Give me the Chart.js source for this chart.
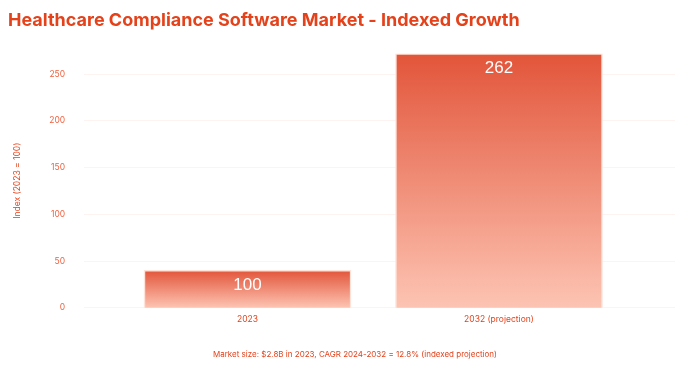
<!DOCTYPE html>
<html>
<head>
<meta charset="utf-8">
<script src="https://cdn.jsdelivr.net/npm/chart.js@4"></script>
<style>
  html, body { margin: 0; padding: 0; background: #fff; }
  #wrap { width: 700px; height: 375px; }
</style>
</head>
<body>
<div id="wrap"><canvas id="c"></canvas></div>
<script>
// Datos del gráfico
const categorias = ["2023", "2032 (projection)"];
const valores = [100, 262];
const titulo = "Healthcare Compliance Software Market - Indexed Growth";
const nota = "Market size: $2.8B in 2023, CAGR 2024-2032 = 12.8% (indexed projection)";

const ROJO = "#e4421b";
const NARANJA = "#ee6241";

// Degradado vertical de cada barra (arriba oscuro, abajo claro)
function rellenoBarra(ctx) {
  const chart = ctx.chart;
  const area = chart.chartArea;
  if (!area || ctx.type !== "data") return "#e5603f";
  const top = chart.scales.y1.getPixelForValue(ctx.raw.y);
  const g = chart.ctx.createLinearGradient(0, top, 0, area.bottom);
  g.addColorStop(0, "#e2553a");
  g.addColorStop(1, "#fdc4b3");
  return g;
}

// Etiquetas blancas dentro de las barras y nota al pie
const etiquetas = {
  id: "etiquetas",
  afterDatasetsDraw(chart) {
    const c = chart.ctx;
    const meta = chart.getDatasetMeta(0);
    c.save();
    c.fillStyle = "#ffffff";
    c.font = "17px 'Liberation Sans', Arial, sans-serif";
    c.textAlign = "center";
    c.textBaseline = "middle";
    meta.data.forEach((bar, i) => {
      c.fillText(String(valores[i]), bar.x, bar.y + 15);
    });
    // nota al pie
    c.fillStyle = ROJO;
    c.font = "8px Inter, sans-serif";
    c.fillText(nota, chart.width / 2 + 5, chart.height - 20);
    c.restore();
  },
};

new Chart(document.getElementById("c"), {
  type: "bar",
  data: {
    datasets: [{
      data: valores.map((v, i) => ({ x: i, y: v })),
      yAxisID: "y1",
      backgroundColor: rellenoBarra,
      borderColor: "rgba(255,225,215,0.95)",
      borderWidth: 1.5,
      barThickness: 207,
    }],
  },
  options: {
    responsive: true,
    maintainAspectRatio: false,
    animation: false,
    layout: { padding: { left: 8, right: 25, top: 0, bottom: 51 } },
    plugins: {
      legend: { display: false },
      tooltip: { enabled: false },
      title: {
        display: true,
        text: titulo,
        align: "start",
        color: ROJO,
        font: { family: "Inter", size: 18, weight: "bold" },
        padding: { top: 10, bottom: 22 },
      },
    },
    scales: {
      x: {
        type: "linear",
        min: -0.65,
        max: 1.7,
        offset: false,
        grid: { display: false, offset: false },
        border: { display: false },
        ticks: {
          stepSize: 1,
          includeBounds: false,
          autoSkip: false,
          maxRotation: 0,
          color: ROJO,
          font: { family: "Inter", size: 8.5 },
          padding: -1,
          callback: (v) => (Number.isInteger(v) ? categorias[v] : null),
        },
      },
      y: {
        position: "left",
        min: 0,
        max: 272,
        border: { display: false },
        grid: { color: "rgba(232,80,50,0.07)", drawTicks: false },
        ticks: {
          stepSize: 50,
          color: NARANJA,
          font: { family: "Inter", size: 8.5 },
          padding: 19,
          callback: (v) => (v % 50 === 0 ? v : null),
        },
        title: {
          display: true,
          text: "Index (2023 = 100)",
          color: ROJO,
          font: { family: "Inter", size: 8.5 },
          padding: { bottom: 8 },
        },
      },
      y1: {
        display: false,
        min: 72,
        max: 262,
      },
    },
  },
  plugins: [etiquetas],
});
</script>
</body>
</html>
